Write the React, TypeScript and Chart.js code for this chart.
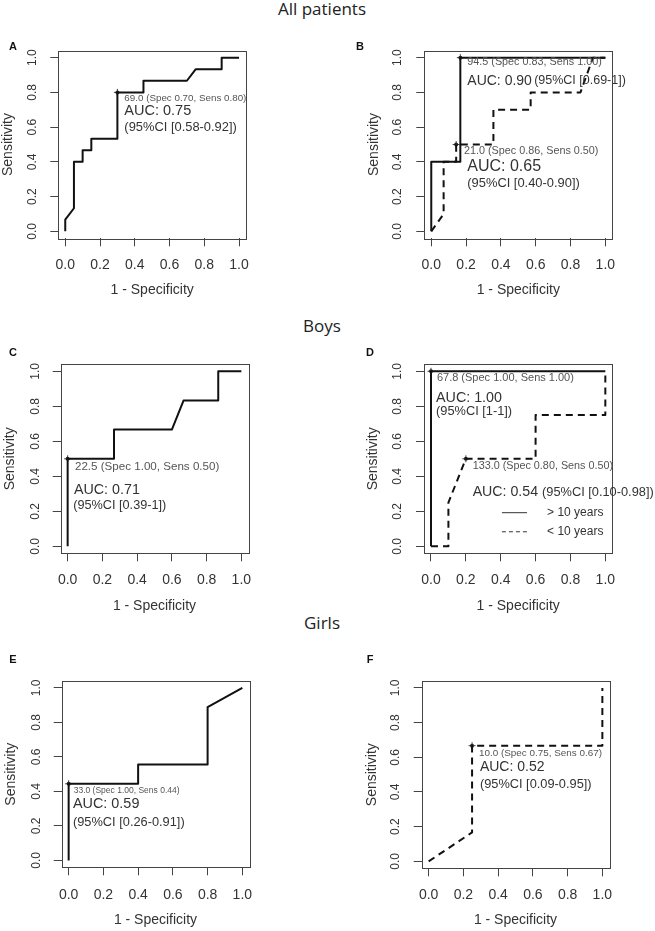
import React, { useEffect, useRef } from "react";
import { Chart, registerables } from "chart.js";
Chart.register(...registerables);

const FONT = '"Liberation Sans", Arial, sans-serif';
const TICK_VALUES = [0, 0.2, 0.4, 0.6, 0.8, 1.0];
const X_TITLE = "1 - Specificity";
const Y_TITLE = "Sensitivity";
const SECTION_TITLES = ["All patients", "Boys", "Girls"];

// Panel A – all patients
const aFpr = [0, 0, 0.05, 0.05, 0.1, 0.1, 0.15, 0.15, 0.3, 0.3, 0.45, 0.45, 0.7, 0.75, 0.9, 0.9, 1.0];
const aSens = [0, 0.067, 0.133, 0.4, 0.4, 0.467, 0.467, 0.533, 0.533, 0.8, 0.8, 0.867, 0.867, 0.933, 0.933, 1.0, 1.0];
const aThrFpr = [0.3];
const aThrSens = [0.8];

// Panel B – all patients by age
const bOlderFpr = [0, 0, 0.167, 0.167, 1.0];
const bOlderSens = [0, 0.4, 0.4, 1.0, 1.0];
const bYoungerFpr = [0, 0.071, 0.071, 0.143, 0.143, 0.357, 0.357, 0.571, 0.571, 0.857, 0.929, 1.0];
const bYoungerSens = [0, 0.1, 0.4, 0.4, 0.5, 0.5, 0.7, 0.7, 0.8, 0.8, 1.0, 1.0];
const bThrFpr = [0.167, 0.143];
const bThrSens = [1.0, 0.5];

// Panel C – boys
const cFpr = [0, 0, 0.267, 0.267, 0.6, 0.667, 0.867, 0.867, 1.0];
const cSens = [0, 0.5, 0.5, 0.667, 0.667, 0.833, 0.833, 1.0, 1.0];
const cThrFpr = [0];
const cThrSens = [0.5];

// Panel D – boys by age
const dOlderFpr = [0, 0, 1.0];
const dOlderSens = [0, 1.0, 1.0];
const dYoungerFpr = [0, 0.1, 0.1, 0.2, 0.6, 0.6, 1.0, 1.0];
const dYoungerSens = [0, 0, 0.25, 0.5, 0.5, 0.75, 0.75, 1.0];
const dThrFpr = [0, 0.2];
const dThrSens = [1.0, 0.5];
const dLegendLabels = ["> 10 years", "< 10 years"];

// Panel E – girls
const eFpr = [0, 0, 0.4, 0.4, 0.8, 0.8, 1.0];
const eSens = [0, 0.444, 0.444, 0.556, 0.556, 0.889, 1.0];
const eThrFpr = [0];
const eThrSens = [0.444];

// Panel F – girls < 10 years
const fFpr = [0, 0.25, 0.25, 1.0, 1.0];
const fSens = [0, 0.167, 0.667, 0.667, 1.0];
const fThrFpr = [0.25];
const fThrSens = [0.667];

const X_TICK_SIZE = 14;
const Y_TICK_SIZE = 12;
const TITLE_SIZE = 14;
const TL = 8;
const INK = "#111";
const AXIS = "#444";
const TEXT = "#333";
const GRAY = "#555";

type Curve = { fpr: number[]; sens: number[]; dashed: boolean };
type Note = { text: string; x: number; y: number; size: number; color?: string };
type Spec = {
  letter: string;
  left: number; top: number; width: number; height: number;
  box: [number, number, number, number];
  xTickY: number; yTickX: number; xTitleY: number; yTitleX: number;
  letterX: number; letterY: number;
  curves: Curve[];
  thrFpr: number[]; thrSens: number[];
  notes: Note[];
  legend?: string[];
};

const panels: Spec[] = [
  {
    letter: "A", left: 0, top: 30, width: 327, height: 275,
    box: [58.3, 50.7, 246, 238.3], xTickY: 265, yTickX: 33, xTitleY: 290, yTitleX: 8.3,
    letterX: 13, letterY: 47,
    curves: [{ fpr: aFpr, sens: aSens, dashed: false }],
    thrFpr: aThrFpr, thrSens: aThrSens,
    notes: [
      { text: "69.0 (Spec 0.70, Sens 0.80)", x: 0.34, y: 0.764, size: 9.8, color: GRAY },
      { text: "AUC: 0.75", x: 0.34, y: 0.692, size: 14.5 },
      { text: "(95%CI [0.58-0.92])", x: 0.34, y: 0.596, size: 12.9 },
    ],
  },
  {
    letter: "B", left: 327, top: 30, width: 328, height: 275,
    box: [424.3, 50.7, 612.3, 238.3], xTickY: 265, yTickX: 398, xTitleY: 290, yTitleX: 374.3,
    letterX: 360, letterY: 47,
    curves: [
      { fpr: bOlderFpr, sens: bOlderSens, dashed: false },
      { fpr: bYoungerFpr, sens: bYoungerSens, dashed: true },
    ],
    thrFpr: bThrFpr, thrSens: bThrSens,
    notes: [
      { text: "94.5 (Spec 0.83, Sens 1.00)", x: 0.207, y: 0.973, size: 10.8, color: GRAY },
      { text: "AUC: 0.90", x: 0.207, y: 0.867, size: 14 },
      { text: "(95%CI [0.69-1])", x: 0.591, y: 0.867, size: 12.5 },
      { text: "21.0 (Spec 0.86, Sens 0.50)", x: 0.188, y: 0.46, size: 10.8, color: GRAY },
      { text: "AUC: 0.65", x: 0.207, y: 0.37, size: 16 },
      { text: "(95%CI [0.40-0.90])", x: 0.207, y: 0.273, size: 12.9 },
    ],
  },
  {
    letter: "C", left: 0, top: 340, width: 327, height: 280,
    box: [60.7, 364.3, 248.3, 553.3], xTickY: 580, yTickX: 36, xTitleY: 606, yTitleX: 10,
    letterX: 13, letterY: 352.7,
    curves: [{ fpr: cFpr, sens: cSens, dashed: false }],
    thrFpr: cThrFpr, thrSens: cThrSens,
    notes: [
      { text: "22.5 (Spec 1.00, Sens 0.50)", x: 0.042, y: 0.457, size: 11.6, color: GRAY },
      { text: "AUC: 0.71", x: 0.036, y: 0.321, size: 14.3 },
      { text: "(95%CI [0.39-1])", x: 0.032, y: 0.234, size: 12.7 },
    ],
  },
  {
    letter: "D", left: 327, top: 340, width: 328, height: 280,
    box: [424, 364.3, 612.3, 553.3], xTickY: 580, yTickX: 398, xTitleY: 606, yTitleX: 373.3,
    letterX: 370, letterY: 352.7,
    curves: [
      { fpr: dOlderFpr, sens: dOlderSens, dashed: false },
      { fpr: dYoungerFpr, sens: dYoungerSens, dashed: true },
    ],
    thrFpr: dThrFpr, thrSens: dThrSens,
    notes: [
      { text: "67.8 (Spec 1.00, Sens 1.00)", x: 0.034, y: 0.96, size: 11, color: GRAY },
      { text: "AUC: 1.00", x: 0.029, y: 0.845, size: 14.3 },
      { text: "(95%CI [1-1])", x: 0.029, y: 0.771, size: 12.8 },
      { text: "133.0 (Spec 0.80, Sens 0.50)", x: 0.239, y: 0.461, size: 10.8, color: GRAY },
      { text: "AUC: 0.54", x: 0.239, y: 0.307, size: 14.2 },
      { text: "(95%CI [0.10-0.98])", x: 0.637, y: 0.307, size: 12.8 },
    ],
    legend: dLegendLabels,
  },
  {
    letter: "E", left: 0, top: 640, width: 327, height: 291,
    box: [61.7, 681, 249.3, 867.3], xTickY: 895, yTickX: 36.7, xTitleY: 920, yTitleX: 10.7,
    letterX: 13, letterY: 660,
    curves: [{ fpr: eFpr, sens: eSens, dashed: false }],
    thrFpr: eThrFpr, thrSens: eThrSens,
    notes: [
      { text: "33.0 (Spec 1.00, Sens 0.44)", x: 0.029, y: 0.406, size: 8.5, color: GRAY },
      { text: "AUC: 0.59", x: 0.025, y: 0.329, size: 14.4 },
      { text: "(95%CI [0.26-0.91])", x: 0.025, y: 0.22, size: 12.8 },
    ],
  },
  {
    letter: "F", left: 327, top: 640, width: 328, height: 291,
    box: [421.7, 681, 609.3, 868.3], xTickY: 895, yTickX: 396, xTitleY: 920, yTitleX: 371.7,
    letterX: 370, letterY: 660,
    curves: [{ fpr: fFpr, sens: fSens, dashed: true }],
    thrFpr: fThrFpr, thrSens: fThrSens,
    notes: [
      { text: "10.0 (Spec 0.75, Sens 0.67)", x: 0.29, y: 0.623, size: 9.9, color: GRAY },
      { text: "AUC: 0.52", x: 0.295, y: 0.542, size: 14 },
      { text: "(95%CI [0.09-0.95])", x: 0.295, y: 0.445, size: 12.8 },
    ],
  },
];

function Panel({ spec }: { spec: Spec }) {
  const ref = useRef<HTMLCanvasElement>(null);
  useEffect(() => {
    const s = spec;
    const canvas = ref.current!;
    const [bl, bt, br, bb] = s.box;
    const mctx = document.createElement("canvas").getContext("2d")!;
    mctx.font = `${Y_TICK_SIZE}px ${FONT}`;
    const widest = Math.max(...TICK_VALUES.map((v) => mctx.measureText(v.toFixed(1)).width));
    const xTickPad = s.xTickY - bb - TL - (X_TICK_SIZE * 1.2) / 2;
    const yTickPad = bl - s.yTickX - TL - widest / 2;
    const xTitlePad = Math.max(0, s.top + s.height - s.xTitleY - TITLE_SIZE * 0.6);
    const yTitlePad = Math.max(0, s.yTitleX - s.left - TITLE_SIZE * 0.6);
    const yWidth = bl - s.left;
    const xHeight = s.top + s.height - bb;

    const datasets: any[] = s.curves.map((c) => ({
      data: c.fpr.map((x, i) => ({ x, y: c.sens[i] })),
      borderColor: INK,
      borderWidth: 2,
      borderDash: c.dashed ? [7, 5] : [],
      borderJoinStyle: "round",
      pointRadius: 0,
      fill: false,
      tension: 0,
    }));
    const thr = s.thrFpr.map((x, i) => ({ x, y: s.thrSens[i] }));
    datasets.push({
      data: thr, showLine: false, pointStyle: "circle", pointRadius: 2,
      pointBackgroundColor: "#222", pointBorderColor: "#222", pointBorderWidth: 0,
    });
    datasets.push({
      data: thr, showLine: false, pointStyle: "cross", pointRadius: 3.5,
      pointBorderColor: "#444", pointBorderWidth: 1,
    });

    const decor = {
      id: "decor",
      beforeDatasetsDraw(chart: any) {
        const { ctx, chartArea: a } = chart;
        ctx.save();
        ctx.strokeStyle = AXIS;
        ctx.lineWidth = 1;
        ctx.strokeRect(Math.round(a.left) + 0.5, Math.round(a.top) + 0.5,
          Math.round(a.right - a.left), Math.round(a.bottom - a.top));
        ctx.restore();
      },
      afterDatasetsDraw(chart: any) {
        const { ctx } = chart;
        const xs = chart.scales.x;
        const ys = chart.scales.y;
        ctx.save();
        ctx.textAlign = "left";
        ctx.textBaseline = "middle";
        for (const n of s.notes) {
          ctx.font = `${n.size}px ${FONT}`;
          ctx.fillStyle = n.color || TEXT;
          ctx.fillText(n.text, xs.getPixelForValue(n.x), ys.getPixelForValue(n.y));
        }
        if (s.legend) {
          const x1 = xs.getPixelForValue(0.407);
          const x2 = xs.getPixelForValue(0.551);
          const tx = xs.getPixelForValue(0.666);
          const rows = [0.192, 0.083];
          s.legend.forEach((lab, i) => {
            const y = ys.getPixelForValue(rows[i]);
            ctx.strokeStyle = "#333";
            ctx.lineWidth = 1;
            ctx.setLineDash(i === 0 ? [] : [4, 3]);
            ctx.beginPath();
            ctx.moveTo(x1, y);
            ctx.lineTo(x2, y);
            ctx.stroke();
            ctx.setLineDash([]);
            ctx.font = `12px ${FONT}`;
            ctx.fillStyle = TEXT;
            ctx.fillText(lab, tx, y);
          });
        }
        ctx.font = `bold 11px ${FONT}`;
        ctx.fillStyle = "#111";
        ctx.textAlign = "center";
        ctx.fillText(s.letter, s.letterX - s.left, s.letterY - s.top);
        ctx.restore();
      },
    };

    const chart = new Chart(canvas, {
      type: "line",
      data: { datasets },
      options: {
        responsive: false,
        animation: false,
        events: [],
        layout: { padding: { left: 0, top: bt - s.top, right: s.left + s.width - br, bottom: 0 } },
        plugins: { legend: { display: false }, tooltip: { enabled: false } },
        scales: {
          x: {
            type: "linear", min: -0.04, max: 1.04,
            afterBuildTicks: (sc: any) => { sc.ticks = TICK_VALUES.map((v) => ({ value: v })); },
            afterFit: (sc: any) => { sc.height = xHeight; },
            border: { display: false },
            grid: { drawOnChartArea: false, drawTicks: true, tickLength: TL, color: AXIS, lineWidth: 1 },
            ticks: {
              autoSkip: false, minRotation: 0, maxRotation: 0, padding: xTickPad, color: TEXT,
              font: { family: FONT, size: X_TICK_SIZE },
              callback: (v: any) => Number(v).toFixed(1),
            },
            title: {
              display: true, text: X_TITLE, color: TEXT,
              font: { family: FONT, size: TITLE_SIZE }, padding: { top: 0, bottom: xTitlePad },
            },
          },
          y: {
            type: "linear", min: -0.04, max: 1.04,
            afterBuildTicks: (sc: any) => { sc.ticks = TICK_VALUES.map((v) => ({ value: v })); },
            afterFit: (sc: any) => { sc.width = yWidth; },
            border: { display: false },
            grid: { drawOnChartArea: false, drawTicks: true, tickLength: TL, color: AXIS, lineWidth: 1 },
            ticks: {
              autoSkip: false, minRotation: 90, maxRotation: 90, crossAlign: "center",
              padding: yTickPad, color: TEXT,
              font: { family: FONT, size: Y_TICK_SIZE },
              callback: (v: any) => Number(v).toFixed(1),
            },
            title: {
              display: true, text: Y_TITLE, color: TEXT,
              font: { family: FONT, size: TITLE_SIZE }, padding: { top: yTitlePad, bottom: 0 },
            },
          },
        },
      } as any,
      plugins: [decor],
    });
    return () => chart.destroy();
  }, [spec]);
  return (
    <canvas
      ref={ref}
      width={spec.width}
      height={spec.height}
      style={{ position: "absolute", left: spec.left, top: spec.top, width: spec.width, height: spec.height }}
    />
  );
}

const titleTops = [-0.6, 316.4, 613.4];

export default function App() {
  return (
    <div style={{ position: "absolute", left: 0, top: 0, width: 655, height: 931, background: "#fff", overflow: "hidden" }}>
      {SECTION_TITLES.map((t, i) => (
        <div
          key={t}
          style={{
            position: "absolute", left: 222, width: 200, top: titleTops[i], textAlign: "center",
            fontFamily: '"Open Sans", sans-serif', fontSize: 17, lineHeight: "20px", color: "#222",
          }}
        >
          {t}
        </div>
      ))}
      {panels.map((p) => (
        <Panel key={p.letter} spec={p} />
      ))}
    </div>
  );
}
